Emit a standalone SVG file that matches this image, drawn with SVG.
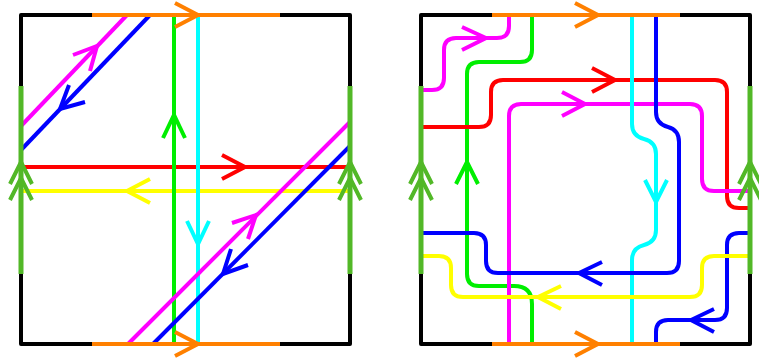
<svg xmlns="http://www.w3.org/2000/svg" width="759" height="363" viewBox="0 0 759 363">
<style>
.l{fill:none;stroke-width:4;stroke-linecap:butt;stroke-linejoin:round}
.a{fill:none;stroke-width:4;stroke-linecap:butt;stroke-linejoin:miter}
.bd{fill:none;stroke:#000;stroke-width:4;stroke-linejoin:round}
.ge{fill:none;stroke:#52b827;stroke-width:5}
.red{stroke:#ff0000}.yel{stroke:#ffff00}.grn{stroke:#00ee00}.cya{stroke:#00ffff}
.mag{stroke:#ff00ff}.blu{stroke:#0000ff}.org{stroke:#ff8000}
</style>
<g id="left-square">
<rect class="bd" x="21" y="15" width="329" height="329"/>
</g>
<g id="right-square">
<rect class="bd" x="421" y="15" width="329" height="329"/>
</g>
<g id="connectors">
<!-- left square -->
<path class="l red" d="M21,167 H350"/>
<polyline class="a red" points="222,155 245,167 222,179"/>
<path class="l yel" d="M21,191 H350"/>
<polyline class="a yel" points="150,179 127,191 150,203"/>
<path class="l grn" d="M174,15 V344"/>
<polyline class="a grn" points="163,138 174,115 185,138"/>
<path class="l cya" d="M198,15 V344"/>
<polyline class="a cya" points="187,221 198,244 209,221"/>
<path class="l mag" d="M21,126 L127,15"/>
<polyline class="a mag" points="73,55 97,46 90,71"/>
<path class="l mag" d="M128,344 L350,122"/>
<polyline class="a mag" points="232,223 256,215 248,239"/>
<path class="l blu" d="M21,150 L150,15"/>
<polyline class="a blu" points="69,85 60,109 85,102"/>
<path class="l blu" d="M153,344 L350,146"/>
<polyline class="a blu" points="231,249 223,274 248,265"/>
<!-- right square -->
<path class="l mag" d="M421,90 H432 Q444,90 444,78 V50 Q444,38 456,38 H497 Q509,38 509,26 V15"/>
<polyline class="a mag" points="462,27 486,38 462,50"/>
<path class="l grn" d="M532,15 V50 Q532,62 520,62 H479 Q467,62 467,74 V274 Q467,286 479,286 H514 Q532,286 532,304 V344"/>
<polyline class="a grn" points="456,184 467,162 478,184"/>
<path class="l red" d="M421,127 H479 Q491,127 491,115 V92 Q491,80 503,80 H715 Q727,80 727,92 V196 Q727,208 739,208 H750"/>
<polyline class="a red" points="592,68 615,80 592,92"/>
<path class="l mag" d="M509,344 V116 Q509,104 521,104 H690 Q702,104 702,116 V179 Q702,191 714,191 H750"/>
<polyline class="a mag" points="562,92 585,104 562,116"/>
<path class="l cya" d="M632,15 V124 Q632,136 644,139 Q656,142 656,154 V230 Q656,242 644,245 Q632,248 632,260 V344"/>
<polyline class="a cya" points="645,180 656,202 667,180"/>
<path class="l blu" d="M656,15 V112 Q656,124 668,127 Q679,130 679,142 V261 Q679,273 667,273 H498 Q486,273 486,261 V245 Q486,233 474,233 H421"/>
<polyline class="a blu" points="602,262 579,273 602,285"/>
<path class="l blu" d="M750,233 H739 Q727,233 727,245 V308 Q727,320 715,320 H668 Q656,320 656,332 V344"/>
<polyline class="a blu" points="714,309 691,320 714,332"/>
<path class="l yel" d="M750,256 H714 Q702,256 702,268 V285 Q702,297 690,297 H463 Q451,297 451,285 V268 Q451,256 439,256 H421"/>
<polyline class="a yel" points="561,286 538,297 561,309"/>
</g>
<g id="edges">
<path class="l org" d="M92,15 H280 M92,344 H280 M492,15 H680 M492,344 H680"/>
<polyline class="a org" points="175,3 198,15 175,27"/>
<polyline class="a org" points="175,332 198,344 175,356"/>
<polyline class="a org" points="575,3 598,15 575,27"/>
<polyline class="a org" points="575,332 598,344 575,356"/>
<path class="ge" d="M21,86 V274 M350,86 V274 M421,86 V274 M750,86 V274"/>
<path class="a" stroke="#52b827" d="M10,184 L21,162 L32,184 M10,200 L21,178 L32,200 M339,184 L350,162 L361,184 M339,200 L350,178 L361,200 M410,184 L421,162 L432,184 M410,200 L421,178 L432,200 M739,184 L750,162 L761,184 M739,200 L750,178 L761,200"/>
</g>
</svg>
